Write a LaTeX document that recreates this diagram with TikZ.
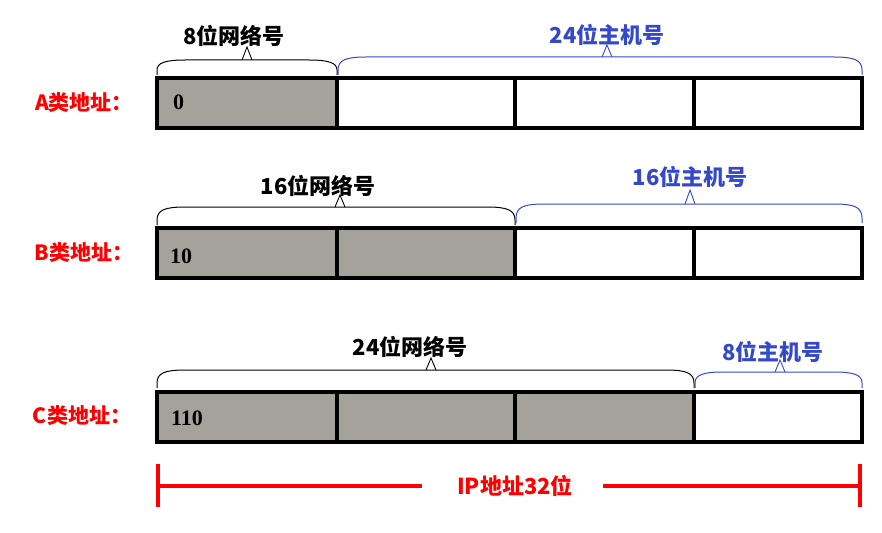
\documentclass[tikz,border=0pt]{standalone}
\usepackage{fontspec}
\setmainfont{Noto Sans CJK SC}
\newfontfamily\numfont{Liberation Serif}
\definecolor{netgray}{RGB}{165,162,156}
\definecolor{hostblue}{RGB}{52,72,204}
\definecolor{ipred}{RGB}{255,0,0}
\newcommand\ipbrace[7]{% #1 color, #2 x0, #3 x1, #4 yt, #5 yb, #6 xm, #7 apex
  \draw[#1,line width=1pt] (#2,#5) -- (#2,#5-5) .. controls (#2,#4+3) and (#2+8,#4) .. (#2+28,#4) -- (#3-28,#4) .. controls (#3-8,#4) and (#3,#4+3) .. (#3,#5-5) -- (#3,#5);
  \draw[#1,line width=0.9pt] (#6-5,#4) -- (#6,#7) -- (#6+5,#4);
}
\tikzset{
  cellbox/.style={draw=black,line width=3.6pt},
  rowlabel/.style={text=ipred,font=\fontsize{21}{21}\selectfont\bfseries,inner sep=0pt},
  netlabel/.style={text=black,font=\fontsize{22}{22}\selectfont\bfseries,inner sep=0pt},
  hostlabel/.style={text=hostblue,font=\fontsize{22}{22}\selectfont\bfseries,inner sep=0pt},
  bitlabel/.style={text=black,font=\fontsize{22}{22}\selectfont\numfont\bfseries,inner sep=0pt,anchor=west},
  dimline/.style={draw=ipred,line width=3.6pt},
}
\begin{document}
\begin{tikzpicture}[x=1pt,y=-1pt]
\useasboundingbox (0,0) rectangle (882,532);
% ---------- Row A ----------
\fill[netgray] (157,78) rectangle (337,128);
\draw[cellbox] (157,78) rectangle (862,128);
\draw[cellbox] (337,78) -- (337,128) (515,78) -- (515,128) (694,78) -- (694,128);
\node[rowlabel] (la) at (84,103) {A类地址：};
\node[bitlabel] (ba) at (173,102) {0};
\ipbrace{black}{157}{337}{60}{75}{247}{47}
\ipbrace{hostblue}{338}{862}{57}{75}{607}{45}
\node[netlabel] (na) at (234,36) {8位网络号};
\node[hostlabel] (ha) at (607,35) {24位主机号};
% ---------- Row B ----------
\fill[netgray] (157,228) rectangle (515,278);
\draw[cellbox] (157,228) rectangle (862,278);
\draw[cellbox] (337,228) -- (337,278) (515,228) -- (515,278) (694,228) -- (694,278);
\node[rowlabel] (lb) at (84,253) {B类地址：};
\node[bitlabel] (bb) at (170,256) {10};
\ipbrace{black}{157}{515}{207}{225}{340}{195}
\ipbrace{hostblue}{516}{862}{204}{223}{690}{190}
\node[netlabel] (nb) at (318,186) {16位网络号};
\node[hostlabel] (hb) at (690,177) {16位主机号};
% ---------- Row C ----------
\fill[netgray] (157,392) rectangle (694,442);
\draw[cellbox] (157,392) rectangle (862,442);
\draw[cellbox] (337,392) -- (337,442) (515,392) -- (515,442) (694,392) -- (694,442);
\node[rowlabel] (lc) at (82,416) {C类地址：};
\node[bitlabel] (bc) at (171,418) {110};
\ipbrace{black}{157}{694}{370}{388}{431}{358}
\ipbrace{hostblue}{695}{862}{372}{388}{780}{360}
\node[netlabel] (nc) at (410,347) {24位网络号};
\node[hostlabel] (hc) at (773,352) {8位主机号};
% ---------- IP total ----------
\node[text=ipred,font=\fontsize{22}{22}\selectfont\bfseries,inner sep=0pt] (ip) at (515,486) {IP地址32位};
\coordinate (ipl) at (158,486);
\coordinate (ipr) at (860,486);
\draw[dimline] (ipl) -- (422,486);
\draw[dimline] (603,486) -- (ipr);
\draw[dimline] ([yshift=-21pt]ipl) -- ([yshift=22pt]ipl);
\draw[dimline] ([yshift=-21pt]ipr) -- ([yshift=22pt]ipr);
\end{tikzpicture}
\end{document}
